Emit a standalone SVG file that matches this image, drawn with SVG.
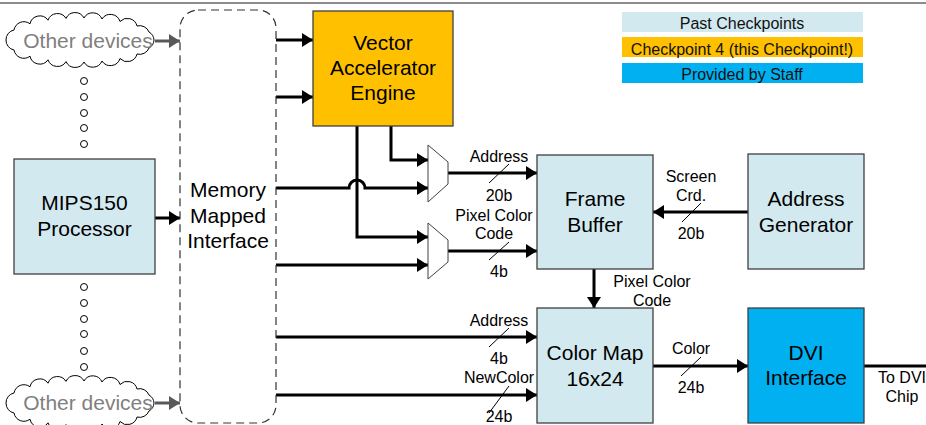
<svg xmlns="http://www.w3.org/2000/svg" width="926" height="425" viewBox="0 0 926 425">
<style>
.box{stroke:#404040;stroke-width:1.3}
.lb{fill:#D3E9F0}
.or{fill:#FFC000}
.bl{fill:#00B0F0}
.t{font-family:"Liberation Sans",Arial,sans-serif;font-size:21px;fill:#000;text-anchor:middle}
.s{font-family:"Liberation Sans",Arial,sans-serif;font-size:16px;fill:#000;text-anchor:middle}
.lg{font-family:"Liberation Sans",Arial,sans-serif;font-size:16px;fill:#111;text-anchor:middle}
.w{fill:none;stroke:#000;stroke-width:3}
.wa{fill:none;stroke:#000;stroke-width:3;marker-end:url(#ah)}
.ga{fill:none;stroke:#595959;stroke-width:3;marker-end:url(#ahg)}
.sl{stroke:#000;stroke-width:1}
.dot{fill:#fff;stroke:#000;stroke-width:1}
.cloud{fill:#fff;stroke:#000;stroke-width:1}
.gt{font-family:"Liberation Sans",Arial,sans-serif;font-size:21px;fill:#7F7F7F;text-anchor:middle}
</style>
<defs>
<marker id="ah" markerUnits="userSpaceOnUse" markerWidth="12" markerHeight="14" refX="11" refY="7" orient="auto"><path d="M0,0 L11,7 L0,14 z" fill="#000"/></marker>
<marker id="ahg" markerUnits="userSpaceOnUse" markerWidth="12" markerHeight="14" refX="11" refY="7" orient="auto"><path d="M0,0 L11,7 L0,14 z" fill="#595959"/></marker>
<path id="cloudp" d="M6,40 A10,10 0 0 1 14,30 A10,10 0 0 1 30,23.8 A10,10 0 0 1 48,20.2 A10,10 0 0 1 66,18.4 A10,10 0 0 1 84,18 A10,10 0 0 1 102,19 A10,10 0 0 1 120,21.5 A10,10 0 0 1 137,26 A10,10 0 0 1 149,32 A10,10 0 0 1 154,40 A10,10 0 0 1 149,48 A10,10 0 0 1 137,54 A10,10 0 0 1 120,58.5 A10,10 0 0 1 102,61 A10,10 0 0 1 84,62 A10,10 0 0 1 66,61.6 A10,10 0 0 1 48,59.8 A10,10 0 0 1 30,56.2 A10,10 0 0 1 14,50 A10,10 0 0 1 6,40 Z"/>
</defs>

<line x1="0" y1="3" x2="926" y2="3" stroke="#666" stroke-width="1.5"/>

<g id="legend">
<rect x="622" y="12" width="241" height="20" class="lb"/>
<text x="742" y="29.3" class="lg">Past Checkpoints</text>
<rect x="622" y="37" width="241" height="20" class="or"/>
<text x="742" y="55" class="lg">Checkpoint 4 (this Checkpoint!)</text>
<rect x="622" y="63" width="241" height="20" class="bl"/>
<text x="742" y="80" class="lg">Provided by Staff</text>
</g>

<g id="connectors">
<path class="ga" d="M155,41 H180"/>
<path class="ga" d="M155,403 H180"/>
<path class="wa" d="M155,218 H180"/>
<path class="wa" d="M276,40 H313"/>
<path class="wa" d="M276,97 H313"/>
<path class="wa" d="M391,126 V160 H428"/>
<path class="wa" d="M357,126 V237 H428"/>
<path class="wa" d="M276,188 H349 A8,8 0 0 1 365,188 H428"/>
<path class="wa" d="M276,265 H428"/>
<path class="wa" d="M448,173 H537"/>
<path class="wa" d="M448,251 H537"/>
<path class="wa" d="M748,212 H653"/>
<path class="wa" d="M594,269 V308"/>
<path class="wa" d="M276,337 H537"/>
<path class="wa" d="M276,395 H537"/>
<path class="wa" d="M653,366 H748"/>
<path class="w" d="M864,366 H926"/>
<line class="sl" x1="489" y1="183" x2="509" y2="164"/>
<line class="sl" x1="489" y1="260" x2="509" y2="242"/>
<line class="sl" x1="682" y1="222" x2="701" y2="203"/>
<line class="sl" x1="489" y1="347" x2="509" y2="328"/>
<line class="sl" x1="489" y1="413" x2="509" y2="386"/>
<line class="sl" x1="681" y1="376" x2="701" y2="357"/>
<text x="499" y="162.3" class="s">Address</text>
<text x="499" y="201" class="s">20b</text>
<text x="494" y="220.7" class="s">Pixel Color</text>
<text x="494" y="239" class="s">Code</text>
<text x="499" y="276.7" class="s">4b</text>
<text x="691" y="181.7" class="s">Screen</text>
<text x="691" y="201" class="s">Crd.</text>
<text x="691" y="239" class="s">20b</text>
<text x="652" y="287.3" class="s">Pixel Color</text>
<text x="652" y="306" class="s">Code</text>
<text x="499" y="326" class="s">Address</text>
<text x="499" y="364" class="s">4b</text>
<text x="499" y="383.3" class="s">NewColor</text>
<text x="499" y="421.7" class="s">24b</text>
<text x="691" y="354" class="s">Color</text>
<text x="691" y="392.7" class="s">24b</text>
<text x="902" y="383.3" class="s">To DVI</text>
<text x="902" y="401.7" class="s">Chip</text>
</g>

<g id="dots">
<circle class="dot" cx="84" cy="81" r="3.5"/>
<circle class="dot" cx="84" cy="97" r="3.5"/>
<circle class="dot" cx="84" cy="113" r="3.5"/>
<circle class="dot" cx="84" cy="128" r="3.5"/>
<circle class="dot" cx="84" cy="144" r="3.5"/>
<circle class="dot" cx="84" cy="287" r="3.5"/>
<circle class="dot" cx="84" cy="303" r="3.5"/>
<circle class="dot" cx="84" cy="319" r="3.5"/>
<circle class="dot" cx="84" cy="334" r="3.5"/>
<circle class="dot" cx="84" cy="351" r="3.5"/>
<circle class="dot" cx="84" cy="367" r="3.5"/>
</g>

<g id="other-devices-top">
<use href="#cloudp" class="cloud"/>
<text x="88" y="48" class="gt">Other devices</text>
</g>
<g id="other-devices-bottom">
<use href="#cloudp" class="cloud" transform="translate(0,363)"/>
<text x="88" y="410" class="gt">Other devices</text>
</g>

<g id="memory-mapped-interface">
<rect x="180" y="10" width="96" height="413" rx="18" ry="18" fill="none" stroke="#333" stroke-width="1.2" stroke-dasharray="8,5"/>
<text x="228" y="197" class="t">Memory</text>
<text x="228" y="223" class="t">Mapped</text>
<text x="228" y="248" class="t">Interface</text>
</g>

<g id="mips150">
<rect x="14" y="159" width="141" height="115" class="box lb"/>
<text x="84.5" y="210" class="t">MIPS150</text>
<text x="84.5" y="236" class="t">Processor</text>
</g>

<g id="vector-accelerator">
<rect x="313" y="11" width="140" height="115" class="box or"/>
<text x="383" y="50" class="t">Vector</text>
<text x="383" y="75" class="t">Accelerator</text>
<text x="383" y="100" class="t">Engine</text>
</g>

<g id="mux1">
<polygon points="428,145 448,162 448,184 428,202" fill="#fff" stroke="#404040" stroke-width="1"/>
</g>
<g id="mux2">
<polygon points="428,223 448,240 448,262 428,279" fill="#fff" stroke="#404040" stroke-width="1"/>
</g>

<g id="frame-buffer">
<rect x="537" y="155" width="116" height="114" class="box lb"/>
<text x="595" y="206" class="t">Frame</text>
<text x="595" y="232" class="t">Buffer</text>
</g>

<g id="address-generator">
<rect x="748" y="154" width="116" height="115" class="box lb"/>
<text x="806" y="206" class="t">Address</text>
<text x="806" y="232" class="t">Generator</text>
</g>

<g id="color-map">
<rect x="537" y="308" width="116" height="115" class="box lb"/>
<text x="595" y="360" class="t">Color Map</text>
<text x="595" y="386" class="t">16x24</text>
</g>

<g id="dvi-interface">
<rect x="748" y="308" width="116" height="115" class="box bl"/>
<text x="806" y="360" class="t">DVI</text>
<text x="806" y="385" class="t">Interface</text>
</g>
</svg>
